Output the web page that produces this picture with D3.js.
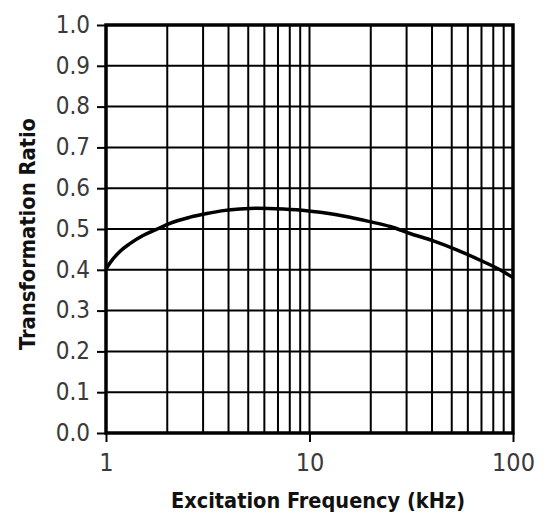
<!DOCTYPE html>
<html>
<head>
<meta charset="utf-8">
<script src="https://cdn.jsdelivr.net/npm/d3@7"></script>
<style>
  html, body { margin: 0; padding: 0; background: #fff; }
  svg { display: block; }
</style>
</head>
<body>
<svg id="chart" width="545" height="518"></svg>
<script>
// Data
const frequency = [1, 1.05, 1.17, 1.31, 1.52, 1.77, 2.06, 2.59, 3.13, 3.77, 4.55, 5.5, 7.43, 9.69, 11.3, 13.6, 15.8, 19.8, 24.9, 31.2, 40.6, 52.9, 68.6, 86.3, 100];
const ratio     = [0.402, 0.418, 0.445, 0.464, 0.484, 0.499, 0.514, 0.529, 0.538, 0.545, 0.549, 0.551, 0.549, 0.545, 0.541, 0.535, 0.529, 0.518, 0.506, 0.489, 0.471, 0.449, 0.424, 0.400, 0.381];
const xTickValues = [1, 10, 100];
const xTickLabels = ["1", "10", "100"];
const xGridValues = [2, 3, 4, 5, 6, 7, 8, 9, 20, 30, 40, 50, 60, 70, 80, 90];
const yTickValues = [0, 0.1, 0.2, 0.3, 0.4, 0.5, 0.6, 0.7, 0.8, 0.9, 1.0];
const xTitle = "Excitation Frequency (kHz)";
const yTitle = "Transformation Ratio";

const margin = {left: 106, top: 25, right: 32, bottom: 85};
const W = 545, H = 518;
const iw = W - margin.left - margin.right;
const ih = H - margin.top - margin.bottom;

const svg = d3.select("#chart");
const g = svg.append("g").attr("transform", `translate(${margin.left},${margin.top})`);

const x = d3.scaleLog().domain([1, 100]).range([0, iw]);
const y = d3.scaleLinear().domain([0, 1]).range([ih, 0]);

// vertical gridlines
g.append("g").selectAll("line").data(xGridValues.concat([10])).join("line")
  .attr("x1", d => x(d)).attr("x2", d => x(d))
  .attr("y1", 0).attr("y2", ih)
  .attr("stroke", "#000").attr("stroke-width", 2);

// horizontal gridlines
g.append("g").selectAll("line").data(yTickValues.slice(1, -1)).join("line")
  .attr("x1", 0).attr("x2", iw)
  .attr("y1", d => y(d)).attr("y2", d => y(d))
  .attr("stroke", "#000").attr("stroke-width", 2);

// frame
g.append("rect").attr("x", 0).attr("y", 0).attr("width", iw).attr("height", ih)
  .attr("fill", "none").attr("stroke", "#000").attr("stroke-width", 3.5);

// Y axis
const yAxis = d3.axisLeft(y).tickValues(yTickValues).tickFormat(d3.format(".1f"))
  .tickSize(9).tickPadding(7);
const ya = g.append("g").call(yAxis);
ya.select(".domain").remove();
ya.selectAll(".tick line").attr("stroke", "#000").attr("stroke-width", 2);
ya.selectAll(".tick text")
  .attr("font-family", "'DejaVu Sans Condensed', 'Liberation Sans', Arial, sans-serif")
  .attr("font-weight", 300)
  .attr("font-size", 24).attr("fill", "#3a3a3a").attr("dy", "0.30em");

// X axis
const xAxis = d3.axisBottom(x).tickValues(xTickValues)
  .tickFormat((d, i) => xTickLabels[i]).tickSize(9).tickPadding(11);
const xa = g.append("g").attr("transform", `translate(0,${ih})`).call(xAxis);
xa.select(".domain").remove();
xa.selectAll(".tick line").attr("stroke", "#000").attr("stroke-width", 2);
xa.selectAll(".tick text")
  .attr("font-family", "'DejaVu Sans Condensed', 'Liberation Sans', Arial, sans-serif")
  .attr("font-weight", 300)
  .attr("font-size", 25).attr("fill", "#3a3a3a");

// curve
const line = d3.line()
  .x((d, i) => x(frequency[i]))
  .y(d => y(d))
  .curve(d3.curveMonotoneX);
g.append("path").datum(ratio)
  .attr("d", line)
  .attr("fill", "none").attr("stroke", "#000").attr("stroke-width", 3.5)
  .attr("stroke-linejoin", "round");

// titles
svg.append("text")
  .attr("x", 318).attr("y", 508)
  .attr("text-anchor", "middle")
  .attr("font-family", "'Liberation Sans Narrow', 'DejaVu Sans Condensed', Arial, sans-serif")
  .attr("font-weight", "bold").attr("font-size", 21).attr("fill", "#111")
  .attr("textLength", 294).attr("lengthAdjust", "spacingAndGlyphs")
  .text(xTitle);

svg.append("text")
  .attr("transform", "translate(35,234) rotate(-90)")
  .attr("text-anchor", "middle")
  .attr("font-family", "'Liberation Sans Narrow', 'DejaVu Sans Condensed', Arial, sans-serif")
  .attr("font-weight", "bold").attr("font-size", 21).attr("fill", "#111")
  .attr("textLength", 232).attr("lengthAdjust", "spacingAndGlyphs")
  .text(yTitle);
</script>
</body>
</html>
